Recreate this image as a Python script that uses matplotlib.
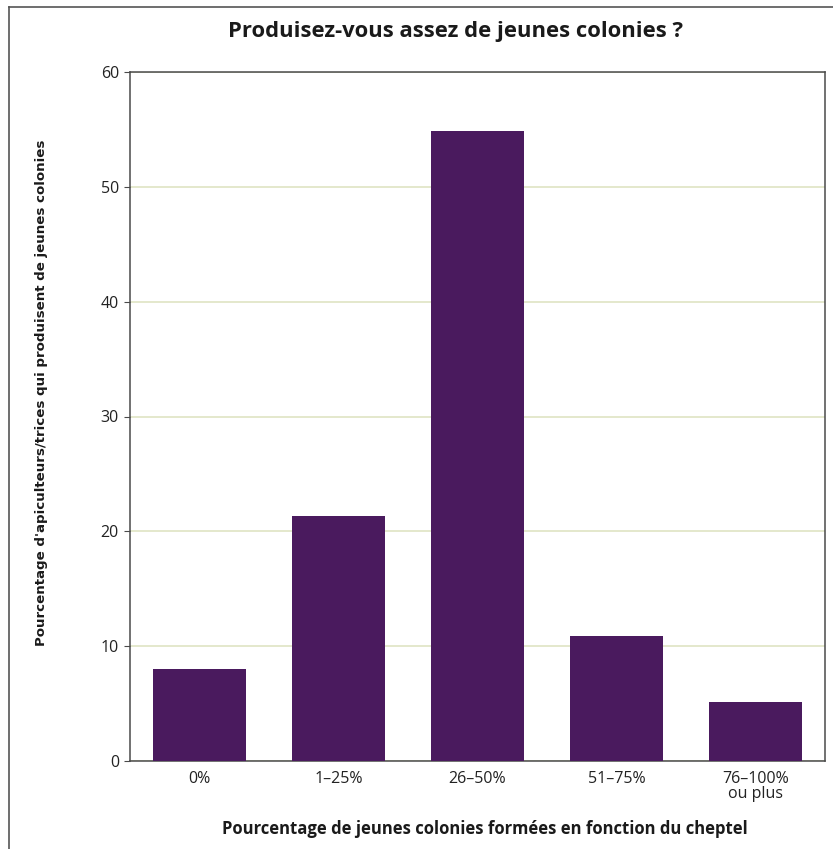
import matplotlib
matplotlib.use("Agg")
import matplotlib.pyplot as plt
from matplotlib.lines import Line2D

# share of colonies formed vs. herd size
categories = ["0%", "1\u201325%", "26\u201350%", "51\u201375%", "76\u2013100%\nou plus"]
values = [8.0, 21.3, 54.9, 10.9, 5.1]
yticks = [0, 10, 20, 30, 40, 50, 60]

bar_color = "#4a1a5e"
grid_color = "#dfe4c4"
spine_color = "#4a4a4a"

fig = plt.figure(figsize=(8.33, 8.49), dpi=100)
ax = fig.add_axes([130 / 833, 1 - 761 / 849, 695 / 833, 689 / 849])

x = range(len(categories))
ax.bar(x, values, width=0.665, color=bar_color, zorder=3)

ax.set_xlim(-0.5, len(categories) - 0.5)
ax.set_ylim(0, 60)
ax.set_yticks(yticks)
ax.set_xticks(list(x))
ax.set_xticklabels(categories, fontsize=11.5, family="Open Sans", color="#222222",
                   linespacing=0.95)
for lab in ax.get_yticklabels():
    lab.set_fontsize(11.5)
    lab.set_family("Open Sans")
    lab.set_color("#222222")

ax.tick_params(axis="y", length=4, width=0.8, color=spine_color, pad=4)
ax.tick_params(axis="x", length=0, pad=7)
ax.yaxis.grid(True, color=grid_color, linewidth=1.2, zorder=0)
for s in ax.spines.values():
    s.set_color(spine_color)
    s.set_linewidth(1.1)

fig.text(456 / 833, 1 - 32 / 849, "Produisez-vous assez de jeunes colonies ?",
         ha="center", va="center", fontsize=15.8, fontweight="bold",
         family="Open Sans", color="#1a1a1a")
fig.text(485 / 833, 1 - 829 / 849,
         "Pourcentage de jeunes colonies form\u00e9es en fonction du cheptel",
         ha="center", va="center", fontsize=12, fontweight="bold",
         family="Open Sans", color="#1a1a1a")
fig.text(42 / 833, 1 - 393 / 849,
         "Pourcentage d'apiculteurs/trices qui produisent de jeunes colonies",
         ha="center", va="center", rotation=90, fontsize=9.6, fontweight="bold",
         family="DejaVu Sans", color="#1a1a1a")

# scanned page frame: left and top edges
fig.add_artist(Line2D([9 / 833, 9 / 833], [0, 1 - 7 / 849], color="#555555", lw=1.2))
fig.add_artist(Line2D([9 / 833, 1], [1 - 7 / 849, 1 - 7 / 849], color="#555555", lw=1.2))

fig.savefig("out.png", dpi=100)
